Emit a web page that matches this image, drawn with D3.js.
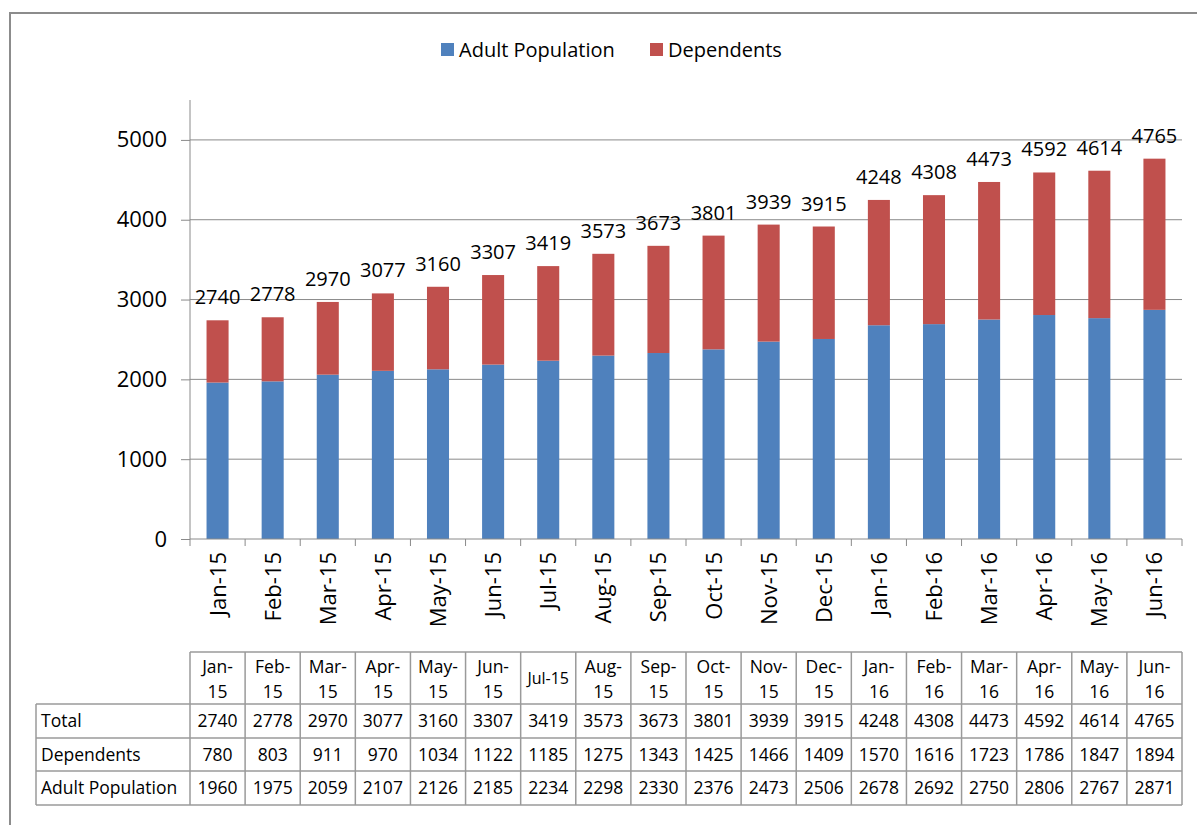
<!DOCTYPE html>
<html>
<head>
<meta charset="utf-8">
<script src="https://cdn.jsdelivr.net/npm/d3@7"></script>
<style>
  body { margin: 0; background: #fff; }
  svg { font-family: "Open Sans", Lato, sans-serif; }
</style>
</head>
<body>
<svg id="chart" width="1197" height="825"></svg>
<script>
// months shown on the x axis and in the table header
var months = ["Jan-15", "Feb-15", "Mar-15", "Apr-15", "May-15", "Jun-15", "Jul-15", "Aug-15", "Sep-15",
  "Oct-15", "Nov-15", "Dec-15", "Jan-16", "Feb-16", "Mar-16", "Apr-16", "May-16", "Jun-16"];
var adultPopulation = [1960, 1975, 2059, 2107, 2126, 2185, 2234, 2298, 2330, 2376, 2473, 2506, 2678, 2692, 2750, 2806, 2767, 2871];
var dependents = [780, 803, 911, 970, 1034, 1122, 1185, 1275, 1343, 1425, 1466, 1409, 1570, 1616, 1723, 1786, 1847, 1894];
var totals = [2740, 2778, 2970, 3077, 3160, 3307, 3419, 3573, 3673, 3801, 3939, 3915, 4248, 4308, 4473, 4592, 4614, 4765];
var yTicks = [0, 1000, 2000, 3000, 4000, 5000];

var seriesNames = ["Adult Population", "Dependents"];
var colors = {"Adult Population": "#4F81BD", "Dependents": "#C0504D"};

var svg = d3.select("#chart");

// outer frame (runs off right and bottom edge)
svg.append("path")
  .attr("d", "M10,830 L10,13 L1205,13")
  .attr("fill", "none")
  .attr("stroke", "#8c8c8c")
  .attr("stroke-width", 2);

var plotLeft = 190, plotRight = 1182, plotTop = 100, plotBottom = 539;

var x = d3.scaleBand().domain(months).range([plotLeft, plotRight]).paddingInner(0.6).paddingOuter(0.3);
var y = d3.scaleLinear().domain([0, 5500]).range([plotBottom, plotTop]);

// gridlines
svg.append("g")
  .selectAll("line")
  .data(yTicks.filter(d => d > 0))
  .enter().append("line")
  .attr("x1", plotLeft).attr("x2", plotRight)
  .attr("y1", d => y(d)).attr("y2", d => y(d))
  .attr("stroke", "#8a8a8a")
  .attr("stroke-width", 1);

// stacked data
var rows = months.map(function (m, i) {
  return {month: m, "Adult Population": adultPopulation[i], "Dependents": dependents[i], total: totals[i]};
});
var stacked = d3.stack().keys(seriesNames)(rows);

svg.append("g")
  .selectAll("g")
  .data(stacked)
  .enter().append("g")
  .attr("fill", d => colors[d.key])
  .selectAll("rect")
  .data(d => d)
  .enter().append("rect")
  .attr("x", d => x(d.data.month))
  .attr("width", x.bandwidth())
  .attr("y", d => y(d[1]))
  .attr("height", d => y(d[0]) - y(d[1]));

// total labels
svg.append("g")
  .selectAll("text")
  .data(rows)
  .enter().append("text")
  .attr("x", d => x(d.month) + x.bandwidth() / 2)
  .attr("y", d => y(d.total) - 16)
  .attr("text-anchor", "middle")
  .style("font-size", "20px")
  .attr("fill", "#000")
  .text(d => d.total);

// y axis
var yAxis = svg.append("g")
  .attr("transform", "translate(" + plotLeft + ",0)")
  .call(d3.axisLeft(y).tickValues(yTicks).tickSize(9).tickPadding(14).tickFormat(d3.format("d")))
  .attr("font-family", null);
yAxis.select(".domain").attr("d", "M0," + plotTop + "V" + plotBottom).attr("stroke", "#8a8a8a");
yAxis.selectAll(".tick line").attr("stroke", "#8a8a8a");
yAxis.selectAll("text").style("font-size", "22px").attr("fill", "#000");

// x axis
var xAxis = svg.append("g")
  .attr("transform", "translate(0," + plotBottom + ")")
  .call(d3.axisBottom(x).tickSize(0).tickFormat(""));
xAxis.select(".domain").attr("d", "M" + plotLeft + ",0H" + plotRight).attr("stroke", "#8a8a8a");
var step = x.step();
svg.append("g")
  .selectAll("line")
  .data(d3.range(months.length + 1))
  .enter().append("line")
  .attr("x1", i => plotLeft + i * step).attr("x2", i => plotLeft + i * step)
  .attr("y1", plotBottom).attr("y2", plotBottom + 7)
  .attr("stroke", "#8a8a8a");

svg.append("g")
  .selectAll("text")
  .data(months)
  .enter().append("text")
  .attr("transform", d => "translate(" + (x(d) + x.bandwidth() / 2 + 8) + "," + (plotBottom + 13) + ") rotate(-90)")
  .attr("text-anchor", "end")
  .style("font-size", "22px")
  .attr("fill", "#000")
  .text(d => d);

// legend
var legend = svg.append("g");
var legendItems = [{name: "Adult Population", x: 441}, {name: "Dependents", x: 650}];
legend.selectAll("rect")
  .data(legendItems)
  .enter().append("rect")
  .attr("x", d => d.x).attr("y", 43)
  .attr("width", 13).attr("height", 13)
  .attr("fill", d => colors[d.name]);
legend.selectAll("text")
  .data(legendItems)
  .enter().append("text")
  .attr("x", d => d.x + 18).attr("y", 57)
  .style("font-size", "20px")
  .attr("fill", "#000")
  .text(d => d.name);

// data table under the chart
var tableLeft = 36, headTop = 652;
var rowTops = [704, 738, 771, 805];
var tableRows = [
  {label: "Total", values: totals},
  {label: "Dependents", values: dependents},
  {label: "Adult Population", values: adultPopulation}
];
var grid = svg.append("g").attr("stroke", "#9a9a9a").attr("stroke-width", 1.5).attr("fill", "none");
grid.append("line").attr("x1", plotLeft).attr("x2", plotRight).attr("y1", headTop).attr("y2", headTop);
rowTops.forEach(function (ry) {
  grid.append("line").attr("x1", tableLeft).attr("x2", plotRight).attr("y1", ry).attr("y2", ry);
});
d3.range(months.length + 1).forEach(function (i) {
  grid.append("line")
    .attr("x1", plotLeft + i * step).attr("x2", plotLeft + i * step)
    .attr("y1", headTop).attr("y2", rowTops[3]);
});
grid.append("line").attr("x1", tableLeft).attr("x2", tableLeft).attr("y1", rowTops[0]).attr("y2", rowTops[3]);

var tableText = svg.append("g").style("font-size", "17.5px").style("font-weight", 500).attr("fill", "#000");
months.forEach(function (m, i) {
  var cx = plotLeft + i * step + step / 2;
  if (m === "Jul-15") {
    tableText.append("text").attr("x", cx).attr("y", 684).attr("text-anchor", "middle")
      .style("font-size", "16px").text(m);
  } else {
    var parts = m.split("-");
    tableText.append("text").attr("x", cx).attr("y", 673).attr("text-anchor", "middle").text(parts[0] + "-");
    tableText.append("text").attr("x", cx).attr("y", 698).attr("text-anchor", "middle").text(parts[1]);
  }
});
tableRows.forEach(function (r, ri) {
  var ty = (rowTops[ri] + rowTops[ri + 1]) / 2 + 6;
  tableText.append("text").attr("x", 41).attr("y", ty).text(r.label);
  r.values.forEach(function (v, i) {
    tableText.append("text")
      .attr("x", plotLeft + i * step + step / 2).attr("y", ty)
      .attr("text-anchor", "middle")
      .text(v);
  });
});
</script>
</body>
</html>
